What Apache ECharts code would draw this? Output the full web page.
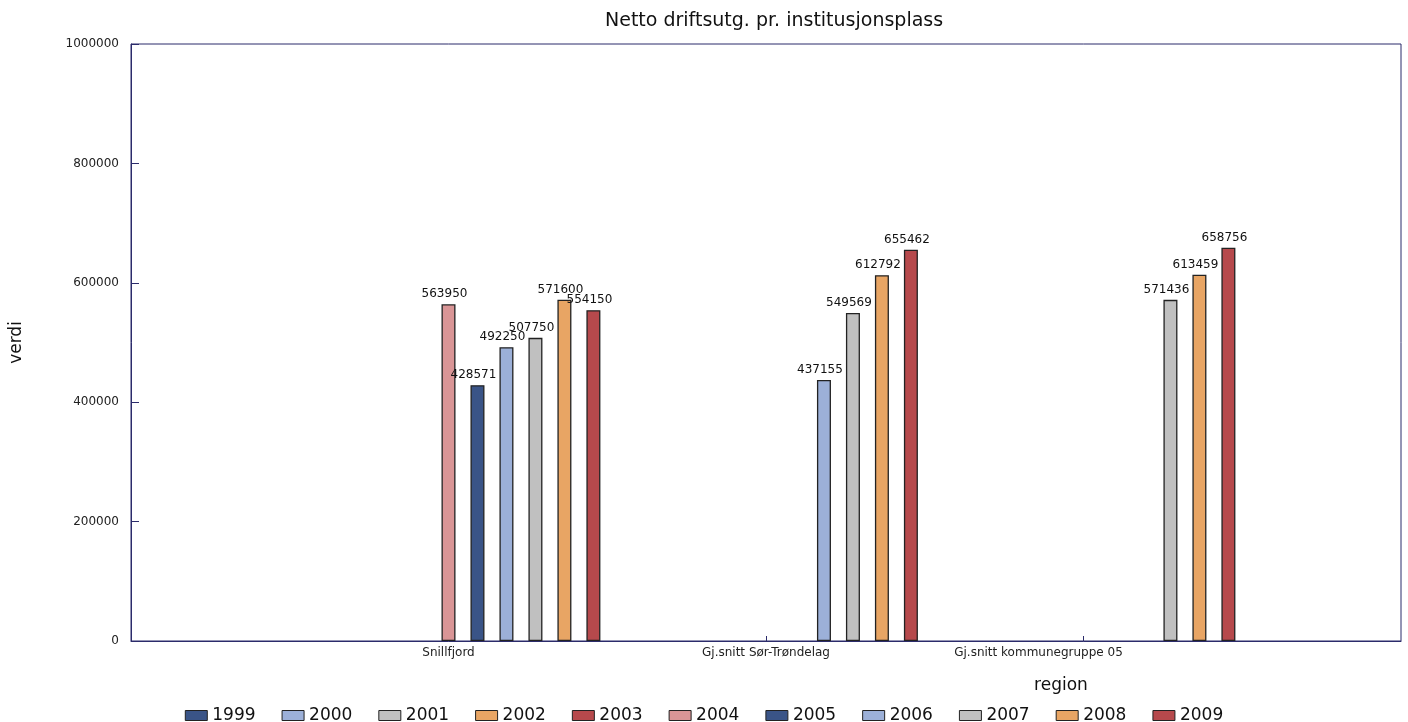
<!DOCTYPE html>
<html>
<head>
<meta charset="utf-8">
<script src="https://cdn.jsdelivr.net/npm/echarts@6/dist/echarts.min.js"></script>
<style>
html,body{margin:0;padding:0;background:#fff;}
#chart{width:1408px;height:722px;}
</style>
</head>
<body>
<div id="chart"></div>
<script>
const regions = ['Snillfjord', 'Gj.snitt Sør-Trøndelag', 'Gj.snitt kommunegruppe 05'];
const years = ['1999','2000','2001','2002','2003','2004','2005','2006','2007','2008','2009'];
const values1999 = [null, null, null];
const values2000 = [null, null, null];
const values2001 = [null, null, null];
const values2002 = [null, null, null];
const values2003 = [null, null, null];
const values2004 = [563950, null, null];
const values2005 = [428571, null, null];
const values2006 = [492250, 437155, null];
const values2007 = [507750, 549569, 571436];
const values2008 = [571600, 612792, 613459];
const values2009 = [554150, 655462, 658756];
const yTicks = [0, 200000, 400000, 600000, 800000, 1000000];

const allValues = [values1999, values2000, values2001, values2002, values2003, values2004,
                   values2005, values2006, values2007, values2008, values2009];
const colors = ['#3a5487', '#9cb0d8', '#c0c0c0', '#e8a564', '#b6494c', '#d99596',
                '#3a5487', '#9cb0d8', '#c0c0c0', '#e8a564', '#b6494c'];

// padded category list: empty slots at both ends of the axis
const categories = [''].concat(regions, ['']);

const series = years.map((y, i) => ({
  name: y,
  type: 'bar',
  data: [null].concat(allValues[i], [null]),
  barWidth: 14,
  barGap: '107%',
  itemStyle: { color: colors[i], borderColor: '#222', borderWidth: 1.3 },
  label: {
    show: true,
    position: 'top',
    distance: 4,
    offset: [-4, 0],
    color: '#111',
    fontFamily: 'DejaVu Sans',
    fontSize: 12,
    formatter: p => p.value == null ? '' : String(p.value)
  }
}));

const chart = echarts.init(document.getElementById('chart'));
chart.setOption({
  animation: false,
  backgroundColor: '#fff',
  color: colors,
  title: {
    text: 'Netto driftsutg. pr. institusjonsplass',
    left: 600,
    top: 7,
    textStyle: { fontFamily: 'DejaVu Sans', fontSize: 19, fontWeight: 'normal', color: '#111' }
  },
  grid: {
    left: 129, right: 7, top: 44, bottom: 81,
    show: true, borderColor: '#2b2b6b', borderWidth: 1, backgroundColor: 'transparent'
  },
  legend: {
    data: years,
    top: 702,
    left: 'center',
    icon: 'rect',
    itemWidth: 22,
    itemHeight: 10,
    itemGap: 26,
    itemStyle: { borderColor: '#222', borderWidth: 1 },
    textStyle: { fontFamily: 'DejaVu Sans', fontSize: 17, color: '#111' }
  },
  xAxis: {
    type: 'category',
    data: categories,
    boundaryGap: false,
    name: 'region',
    nameLocation: 'middle',
    nameGap: 36,
    nameTextStyle: { fontFamily: 'DejaVu Sans', fontSize: 17, color: '#111', padding: [0, 0, 0, 590] },
    axisLine: { show: true, lineStyle: { color: '#2b2b6b', width: 1 } },
    axisTick: { show: true, inside: true, length: 5, interval: (idx) => idx === 2 || idx === 3,
                lineStyle: { color: '#2b2b6b' } },
    axisLabel: {
      interval: 0,
      margin: 6,
      fontFamily: 'DejaVu Sans',
      fontSize: 12,
      color: '#222',
      formatter: (v) => v === regions[2] ? '{s|' + v + '}' : v,
      rich: { s: { fontFamily: 'DejaVu Sans', fontSize: 12, color: '#222', padding: [0, 90, 0, 0] } }
    },
    splitLine: { show: false }
  },
  yAxis: {
    type: 'value',
    min: yTicks[0],
    max: yTicks[yTicks.length - 1],
    interval: yTicks[1] - yTicks[0],
    name: 'verdi',
    nameLocation: 'middle',
    nameGap: 106,
    nameRotate: 90,
    nameTextStyle: { fontFamily: 'DejaVu Sans', fontSize: 17, color: '#111' },
    axisLine: { show: true, lineStyle: { color: '#2b2b6b', width: 1 } },
    axisTick: { show: true, inside: true, length: 8, lineStyle: { color: '#2b2b6b' } },
    axisLabel: { margin: 12, fontFamily: 'DejaVu Sans', fontSize: 12, color: '#222',
                 formatter: v => String(v) },
    splitLine: { show: false }
  },
  series: series
});
</script>
</body>
</html>
